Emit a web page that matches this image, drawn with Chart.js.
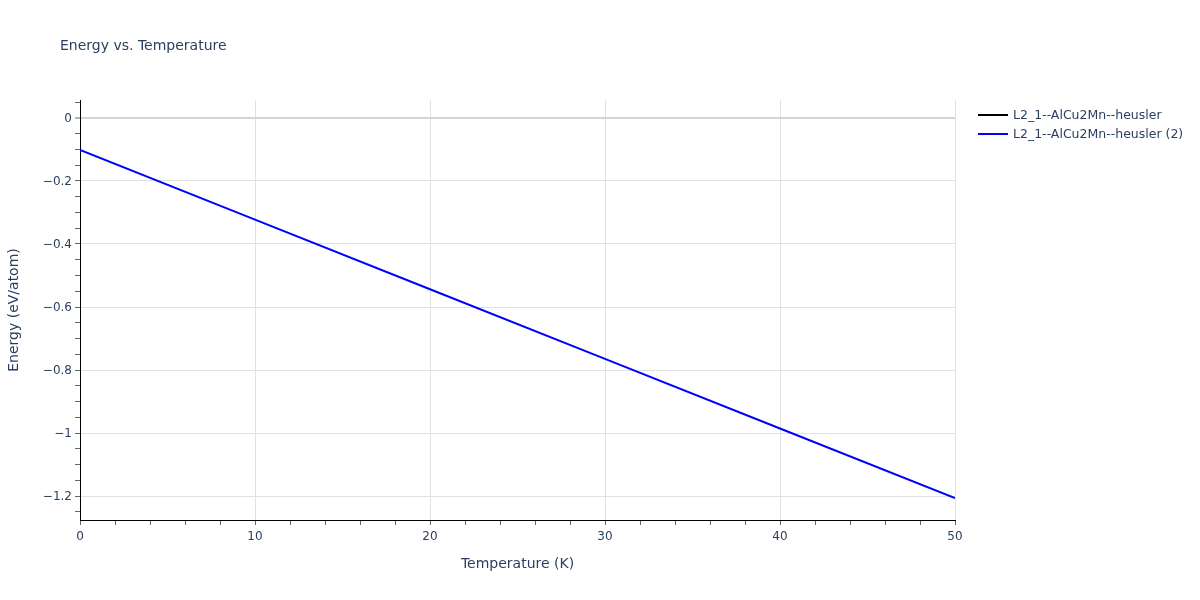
<!DOCTYPE html>
<html>
<head>
<meta charset="utf-8">
<title>Energy vs. Temperature</title>
<script src="https://cdn.jsdelivr.net/npm/chart.js@4.4.1/dist/chart.umd.min.js"></script>
<style>
  html, body { margin: 0; padding: 0; background: #fff; }
  #wrap { width: 1200px; height: 600px; position: relative; }
</style>
</head>
<body>
<div id="wrap"><canvas id="energyChart" width="1200" height="600"></canvas></div>
<script>
// values
const temperatures = [0, 10, 20, 30, 40, 50];
const energyFirst = [];   // black series, nothing visible in the picture
const energySecond = [-0.1016, -0.3225, -0.5435, -0.7645, -0.9855, -1.2063];
const seriesNames = ['L2_1--AlCu2Mn--heusler', 'L2_1--AlCu2Mn--heusler (2)'];
const seriesColors = ['#000000', '#0000ff'];
const xTickValues = [0, 2, 4, 6, 8, 10, 12, 14, 16, 18, 20, 22, 24, 26, 28, 30, 32, 34, 36, 38, 40, 42, 44, 46, 48, 50];
const yTickValues = [-1.25, -1.2, -1.15, -1.1, -1.05, -1, -0.95, -0.9, -0.85, -0.8, -0.75, -0.7, -0.65, -0.6,
  -0.55, -0.5, -0.45, -0.4, -0.35, -0.3, -0.25, -0.2, -0.15, -0.1, -0.05, 0, 0.05];

const textColor = '#2a3f5f';
const fontFamily = '"DejaVu Sans", Verdana, Arial, sans-serif';

function isMultiple(v, step) {
  return Math.abs(v / step - Math.round(v / step)) < 1e-6;
}

function minusSign(v) {
  let s = String(Math.round(v * 100) / 100);
  return s.replace('-', '\u2212');
}

// draws the title and the legend outside the plot area, plotly style
const sideTextPlugin = {
  id: 'sideText',
  afterDraw(chart) {
    const ctx = chart.ctx;
    ctx.save();
    ctx.fillStyle = textColor;
    ctx.font = '14px ' + fontFamily;
    ctx.textBaseline = 'middle';
    ctx.textAlign = 'left';
    ctx.fillText('Energy vs. Temperature', 60, 46);

    ctx.font = '12.5px ' + fontFamily;
    chart.data.datasets.forEach((ds, i) => {
      const y = 115 + i * 19;
      ctx.strokeStyle = ds.borderColor;
      ctx.lineWidth = 2;
      ctx.beginPath();
      ctx.moveTo(978, y);
      ctx.lineTo(1008, y);
      ctx.stroke();
      ctx.fillStyle = textColor;
      ctx.fillText(ds.label, 1013, y + 1);
    });
    ctx.restore();
  }
};

const ctx = document.getElementById('energyChart').getContext('2d');
new Chart(ctx, {
  type: 'line',
  data: {
    labels: temperatures,
    datasets: [
      {
        label: seriesNames[0],
        data: energyFirst,
        borderColor: seriesColors[0],
        backgroundColor: seriesColors[0],
        borderWidth: 2,
        pointRadius: 0,
        fill: false
      },
      {
        label: seriesNames[1],
        data: temperatures.map((t, i) => ({ x: t, y: energySecond[i] })),
        borderColor: seriesColors[1],
        backgroundColor: seriesColors[1],
        borderWidth: 2,
        pointRadius: 0,
        fill: false,
        tension: 0
      }
    ]
  },
  options: {
    responsive: false,
    animation: false,
    layout: { padding: { left: 0, right: 245, top: 100, bottom: 0 } },
    plugins: {
      legend: { display: false },
      title: { display: false },
      tooltip: { enabled: false }
    },
    scales: {
      x: {
        type: 'linear',
        min: 0,
        max: 50,
        afterBuildTicks: scale => { scale.ticks = xTickValues.map(v => ({ value: v })); },
        afterFit: scale => { scale.height = 80; },
        border: { color: '#000', width: 1 },
        grid: {
          color: c => (c.tick && isMultiple(c.tick.value, 10) && c.tick.value !== 0) ? '#e1e1e1' : 'rgba(0,0,0,0)',
          lineWidth: 1,
          drawTicks: true,
          tickLength: 5,
          tickColor: '#666',
          tickWidth: 1
        },
        ticks: {
          autoSkip: false,
          maxRotation: 0,
          padding: 5,
          color: textColor,
          font: { family: fontFamily, size: 12 },
          callback: v => isMultiple(v, 10) ? minusSign(v) : ''
        },
        title: {
          display: true,
          text: 'Temperature (K)',
          color: textColor,
          font: { family: fontFamily, size: 14 },
          padding: { top: 0, bottom: 27 }
        }
      },
      y: {
        type: 'linear',
        min: -1.276,
        max: 0.057,
        afterBuildTicks: scale => { scale.ticks = yTickValues.map(v => ({ value: v })); },
        afterFit: scale => { scale.width = 80; },
        border: { color: '#000', width: 1 },
        grid: {
          color: c => {
            if (!c.tick) return 'rgba(0,0,0,0)';
            if (Math.abs(c.tick.value) < 1e-9) return '#d4d4d4';
            return isMultiple(c.tick.value, 0.2) ? '#e1e1e1' : 'rgba(0,0,0,0)';
          },
          lineWidth: c => (c.tick && Math.abs(c.tick.value) < 1e-9) ? 2 : 1,
          drawTicks: true,
          tickLength: 5,
          tickColor: '#666',
          tickWidth: 1
        },
        ticks: {
          autoSkip: false,
          padding: 3,
          labelOffset: 1,
          color: textColor,
          font: { family: fontFamily, size: 12 },
          callback: v => isMultiple(v, 0.2) ? minusSign(v) : ''
        },
        title: {
          display: true,
          text: 'Energy (eV/atom)',
          color: textColor,
          font: { family: fontFamily, size: 14 },
          padding: { top: 6, bottom: 0 }
        }
      }
    }
  },
  plugins: [sideTextPlugin]
});
</script>
</body>
</html>
